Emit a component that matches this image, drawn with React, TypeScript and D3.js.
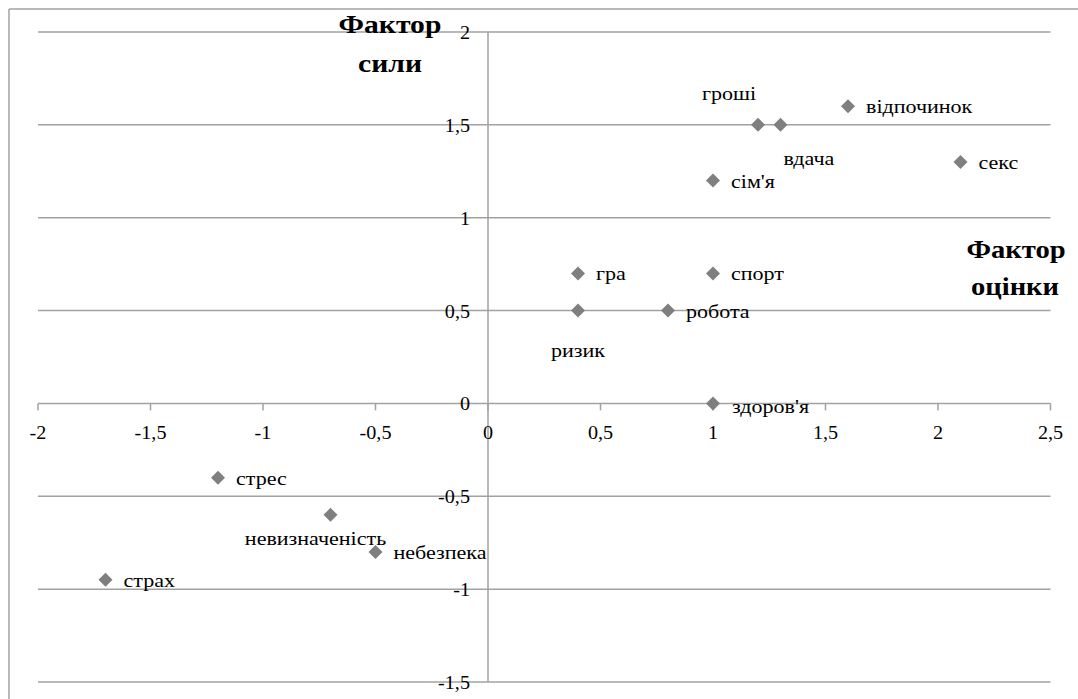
import React from "react";
import * as d3 from "d3";

const names = ["гроші","вдача","відпочинок","секс","сім'я","гра","спорт","ризик","робота","здоров'я","стрес","невизначеність","небезпека","страх"];
const xValues = [1.2, 1.3, 1.6, 2.1, 1.0, 0.4, 1.0, 0.4, 0.8, 1.0, -1.2, -0.7, -0.5, -1.7];
const yValues = [1.5, 1.5, 1.6, 1.3, 1.2, 0.7, 0.7, 0.5, 0.5, 0.0, -0.4, -0.6, -0.8, -0.95];
const xTicks = [-2, -1.5, -1, -0.5, 0, 0.5, 1, 1.5, 2, 2.5];
const yTicks = [-1.5, -1, -0.5, 0, 0.5, 1, 1.5, 2];

// label placement: [dx, dy, anchor]
const labelPlacement: Record<string, [number, number, string]> = {
  "гроші": [-29, -25, "middle"],
  "вдача": [3, 40, "start"],
  "ризик": [0, 46, "middle"],
  "невизначеність": [-15, 30, "middle"],
  "здоров'я": [19, 10, "start"],
};

const W = 1078, H = 699;
const fmt = (v: number) => String(v).replace(".", ",");
const FONT = "'Liberation Serif', 'Times New Roman', serif";

export default function App() {
  const x = d3.scaleLinear().domain([-2, 2.5]).range([38, 1050.5]);
  const y = d3.scaleLinear().domain([-1.5, 2]).range([682, 32]);
  const diamond = d3.symbol().type(d3.symbolSquare).size(98)()!;
  const grid = "#a2a2a2";
  const T = (props: { x: number; y: number; anchor?: string; size: number; sx: number; bold?: boolean; children: string }) => (
    <g transform={`translate(${props.x},${props.y}) scale(${props.sx},1)`}>
      <text textAnchor={props.anchor || "start"} style={{ fontFamily: FONT, fontSize: props.size + "px", fontWeight: props.bold ? 700 : 400 }} fill="#000">{props.children}</text>
    </g>
  );
  return (
    <svg width={W} height={H} style={{ position: "absolute", left: 0, top: 0, background: "#fff" }}>
      <rect x={0} y={0} width={W} height={H} fill="#fff" />
      <line x1={9} y1={9} x2={W} y2={9} stroke={grid} strokeWidth={1.5} />
      <line x1={9} y1={9} x2={9} y2={H} stroke={grid} strokeWidth={1.5} />
      {yTicks.map((t) => (
        <line key={"g" + t} x1={x(-2)} x2={x(2.5)} y1={y(t)} y2={y(t)} stroke={grid} strokeWidth={1.5} />
      ))}
      <line x1={x(0)} x2={x(0)} y1={y(2)} y2={y(-1.5)} stroke={grid} strokeWidth={1.5} />
      {xTicks.map((t) => (
        <line key={"t" + t} x1={x(t)} x2={x(t)} y1={y(0)} y2={y(0) + 7} stroke={grid} strokeWidth={1.5} />
      ))}
      {xTicks.map((t) => (
        <T key={"xl" + t} x={x(t)} y={y(0) + 36} anchor="middle" size={18} sx={1.12}>{fmt(t)}</T>
      ))}
      {yTicks.map((t) => (
        <T key={"yl" + t} x={470} y={y(t) + 7} anchor="end" size={18} sx={1.12}>{fmt(t)}</T>
      ))}
      {names.map((n, i) => (
        <path key={"m" + n} d={diamond} transform={`translate(${x(xValues[i])},${y(yValues[i])}) rotate(45)`} fill="#7f7f7f" />
      ))}
      {names.map((n, i) => {
        const p = labelPlacement[n] || [18, 7, "start"];
        return (
          <T key={"l" + n} x={x(xValues[i]) + p[0]} y={y(yValues[i]) + p[1]} anchor={p[2]} size={19} sx={1.16}>{n}</T>
        );
      })}
      <T x={390} y={33} anchor="middle" size={26} sx={1.14} bold>Фактор</T>
      <T x={390} y={72} anchor="middle" size={26} sx={1.14} bold>сили</T>
      <T x={1016} y={258} anchor="middle" size={26} sx={1.1} bold>Фактор</T>
      <T x={1015} y={295} anchor="middle" size={26} sx={1.1} bold>оцінки</T>
    </svg>
  );
}
